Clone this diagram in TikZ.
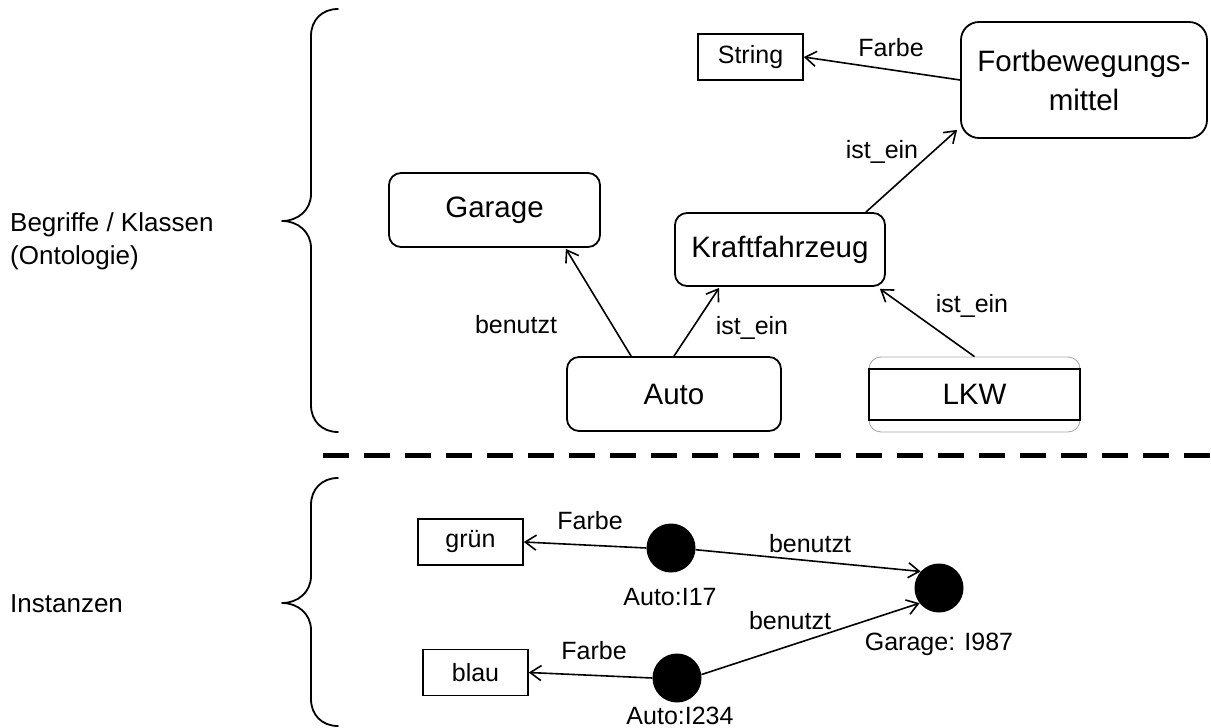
\documentclass[tikz,border=0pt]{standalone}
\usepackage{fontspec}
\setmainfont{Liberation Sans}
\usetikzlibrary{arrows.meta,calc}
\begin{document}
\begin{tikzpicture}[x=1pt,y=-1pt,
  lbl/.style={inner sep=0pt, font=\fontsize{25}{30}\selectfont},
  seite/.style={inner sep=0pt, font=\fontsize{26}{31}\selectfont},
  klasse/.style={draw, line width=1.8pt, rounded corners=12pt, minimum width=211pt,
    minimum height=74pt, inner sep=0pt, font=\fontsize{29.5}{39}\selectfont},
  wert/.style={draw, line width=1.6pt, minimum width=105pt, minimum height=46pt,
    inner sep=0pt, font=\fontsize{25}{30}\selectfont},
  inst/.style={circle, fill=black, minimum size=49pt, inner sep=0pt},
  rel/.style={line width=1.6pt, -{Straight Barb[length=11pt,width=15pt]}},
  klammer/.style={line width=1.8pt, line cap=round, line join=round},
]
\useasboundingbox (0,0) rectangle (1211,728);

% --- Ontologie: Klassen ---
\node[wert] (string) at (750.5,57) {String};
\node[klasse, rounded corners=18pt, minimum width=246pt, minimum height=116pt, align=center]
  (fort) at (1084,80) {Fortbewegungs-\\mittel};
\node[klasse] (garage) at (494.5,210) {Garage};
\node[klasse, minimum width=210pt, minimum height=73pt] (kfz) at (780,249.5) {Kraftfahrzeug};
\node[klasse, minimum width=214pt] (auto) at (674,394) {Auto};
\node[draw=gray!70, line width=0.8pt, rounded corners=12pt, minimum width=211pt,
  minimum height=75pt, inner sep=0pt] (lkw) at (974.5,394.5) {};
\node[draw, line width=2pt, minimum width=211pt, minimum height=51pt, inner sep=0pt,
  font=\fontsize{29.5}{39}\selectfont] (lkwbox) at (lkw.center) {LKW};

% Relationen zwischen den Klassen
\draw[rel] (fort.west) -- (string.east);
\draw[rel] ($(kfz.north east)+(-20,0)$) -- ($(fort.south west)+(-3,-9)$);
\draw[rel] ($(auto.north west)+(65,0)$) -- ($(garage.south east)+(-35,1)$);
\draw[rel] (auto.north) -- ($(kfz.south west)+(45,1)$);
\draw[rel] (lkw.north) -- ($(kfz.south east)+(-6,2)$);

\node[lbl] (farbeA) at (891,48) {Farbe};
\node[lbl] (isteinA) at (882,152) {ist\_ein};
\node[lbl] (benutztA) at (516,325) {benutzt};
\node[lbl] (isteinB) at (752,328) {ist\_ein};
\node[lbl] (isteinC) at (972,306) {ist\_ein};

% --- Beschriftung links ---
\node[seite, anchor=base west] (begriffe) at (10,231) {Begriffe / Klassen};
\node[seite, anchor=base west] (ontologie) at (10,264) {(Ontologie)};
\node[seite, anchor=base west] (instanzen) at (10,612) {Instanzen};

% geschweifte Klammern
\draw[klammer] (338,9) .. controls (322,9) and (311,20) .. (311,36) -- (311,194)
  .. controls (311,210) and (298,221) .. (282,221)
  .. controls (298,221) and (311,232) .. (311,248) -- (311,405)
  .. controls (311,421) and (322,432) .. (338,432);
\draw[klammer] (338,478) .. controls (322,478) and (311,489) .. (311,505) -- (311,576)
  .. controls (311,592) and (298,603) .. (282,603)
  .. controls (298,603) and (311,614) .. (311,630) -- (311,699)
  .. controls (311,715) and (322,726) .. (338,726);

% Trennlinie
\draw[line width=5pt, dash pattern=on 26pt off 15pt] (323,455) -- (1211,455);

% --- Instanzen ---
\node[wert] (gruen) at (470.5,542) {grün};
\node[wert] (blau) at (475.5,672.5) {blau};
\node[inst] (i17) at (671,548) {};
\node[inst] (i234) at (677,678) {};
\node[inst] (g987) at (939,588) {};
\node[lbl] (i17lbl) at (670,597) {Auto:I17};
\node[lbl] (i234lbl) at (680,716) {Auto:I234};
\node[lbl] (g987lbl) at (939,644) {Garage: I987};

\draw[rel] (i17.west) -- (gruen.east);
\draw[rel] (i17.-4) -- (g987.138);
\draw[rel] (i234.west) -- (blau.east);
\draw[rel] (i234.8) -- (g987.218);

\node[lbl] (farbeB) at (590,521) {Farbe};
\node[lbl] (benutztB) at (810,544) {benutzt};
\node[lbl] (farbeC) at (594,651) {Farbe};
\node[lbl] (benutztC) at (790,621) {benutzt};
\end{tikzpicture}
\end{document}
